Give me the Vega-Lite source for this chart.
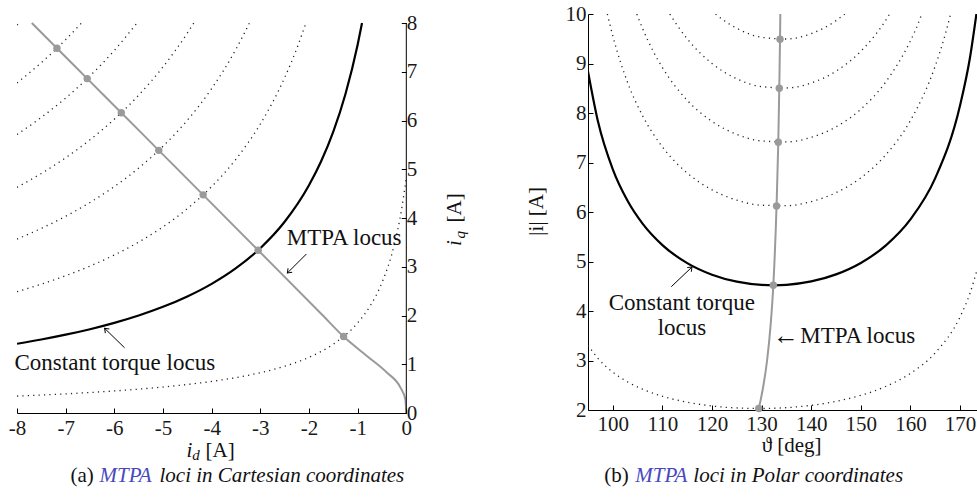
{
  "$schema": "https://vega.github.io/schema/vega-lite/v6.json",
  "padding": {"left": 8, "top": 3, "right": 0, "bottom": 0},
  "background": "white",
  "bounds": "flush",
  "spacing": 181,
  "config": {
    "view": {"stroke": null},
    "font": "Liberation Serif",
    "axis": {"labelFont": "Liberation Serif", "labelFontSize": 21, "labelColor": "#1a1a1a", "domainColor": "#000", "tickColor": "#000", "domainWidth": 1, "tickWidth": 1, "grid": false, "labelFlush": false}
  },
  "datasets": {
    "torqueA": [
      {"c":"T1","x":-8,"y":0.3473},{"c":"T1","x":-7.5,"y":0.3687},{"c":"T1","x":-7,"y":0.3929},{"c":"T1","x":-6.5,"y":0.4205},{"c":"T1","x":-6,"y":0.4523},{"c":"T1","x":-5.5,"y":0.4892},{"c":"T1","x":-5,"y":0.5327},{"c":"T1","x":-4.5,"y":0.5848},{"c":"T1","x":-4,"y":0.6481},{"c":"T1","x":-3.5,"y":0.7267},{"c":"T1","x":-3,"y":0.8271},{"c":"T1","x":-2.5,"y":0.9596},{"c":"T1","x":-2,"y":1.1427},{"c":"T1","x":-1.5,"y":1.4123},{"c":"T1","x":-1,"y":1.8481},{"c":"T1","x":-0.75,"y":2.1854},{"c":"T1","x":-0.5,"y":2.6732},{"c":"T1","x":-0.25,"y":3.4414},{"c":"T1","x":-0.1,"y":4.158},{"c":"T1","x":0,"y":4.829},
      {"c":"T3","x":-8,"y":2.4896},{"c":"T3","x":-7.5,"y":2.6429},{"c":"T3","x":-7,"y":2.8163},{"c":"T3","x":-6.5,"y":3.014},{"c":"T3","x":-6,"y":3.2417},{"c":"T3","x":-5.5,"y":3.5065},{"c":"T3","x":-5,"y":3.8185},{"c":"T3","x":-4.5,"y":4.1914},{"c":"T3","x":-4,"y":4.645},{"c":"T3","x":-3.5,"y":5.2087},{"c":"T3","x":-3,"y":5.9282},{"c":"T3","x":-2.5,"y":6.8782},{"c":"T3","x":-2.25,"y":7.477},{"c":"T3","x":-2.0625,"y":8},
      {"c":"T4","x":-8,"y":3.5673},{"c":"T4","x":-7.5,"y":3.787},{"c":"T4","x":-7,"y":4.0354},{"c":"T4","x":-6.5,"y":4.3188},{"c":"T4","x":-6,"y":4.645},{"c":"T4","x":-5.5,"y":5.0245},{"c":"T4","x":-5,"y":5.4715},{"c":"T4","x":-4.5,"y":6.0059},{"c":"T4","x":-4,"y":6.6558},{"c":"T4","x":-3.5,"y":7.4636},{"c":"T4","x":-3.2238,"y":8},
      {"c":"T5","x":-8,"y":4.6288},{"c":"T5","x":-7.5,"y":4.9138},{"c":"T5","x":-7,"y":5.2362},{"c":"T5","x":-6.5,"y":5.6039},{"c":"T5","x":-6,"y":6.0272},{"c":"T5","x":-5.5,"y":6.5196},{"c":"T5","x":-5,"y":7.0996},{"c":"T5","x":-4.5,"y":7.793},{"c":"T5","x":-4.3675,"y":8},
      {"c":"T6","x":-8,"y":5.7123},{"c":"T6","x":-7.5,"y":6.064},{"c":"T6","x":-7,"y":6.4619},{"c":"T6","x":-6.5,"y":6.9157},{"c":"T6","x":-6,"y":7.4381},{"c":"T6","x":-5.535,"y":8},
      {"c":"T7","x":-8,"y":6.7703},{"c":"T7","x":-7.5,"y":7.1872},{"c":"T7","x":-7,"y":7.6588},{"c":"T7","x":-6.675,"y":8},
      {"c":"T8","x":-8,"y":7.958},{"c":"T8","x":-7.955,"y":8}
    ],
    "ctA": [
      {"x":-8,"y":1.42},{"x":-7.5,"y":1.5074},{"x":-7,"y":1.6063},{"x":-6.5,"y":1.7191},{"x":-6,"y":1.8489},{"x":-5.5,"y":2.0},{"x":-5,"y":2.1779},{"x":-4.5,"y":2.3906},{"x":-4,"y":2.6494},{"x":-3.5,"y":2.9709},{"x":-3,"y":3.3812},{"x":-2.5,"y":3.9231},{"x":-2,"y":4.6718},{"x":-1.75,"y":5.1646},{"x":-1.5,"y":5.7736},{"x":-1.25,"y":6.5455},{"x":-1,"y":7.5556},{"x":-0.91,"y":8}
    ],
    "mtpaA": [
      {"x":0,"y":0},{"x":-0.02,"y":0.28},{"x":-0.12,"y":0.52},{"x":-0.4,"y":0.83},{"x":-0.81,"y":1.17},{"x":-1.289,"y":1.568},{"x":-1.714,"y":2},{"x":-3.045,"y":3.34},{"x":-4.175,"y":4.475},{"x":-5.087,"y":5.388},{"x":-5.857,"y":6.16},{"x":-6.557,"y":6.86},{"x":-7.179,"y":7.483},{"x":-7.696,"y":8}
    ],
    "dotsA": [
      {"x":-1.289,"y":1.568},{"x":-3.045,"y":3.34},{"x":-4.175,"y":4.475},{"x":-5.087,"y":5.388},{"x":-5.857,"y":6.16},{"x":-6.557,"y":6.86},{"x":-7.179,"y":7.483}
    ],
    "torqueB": [
      {"c":"B1","x":95,"y":3.309},{"c":"B1","x":97,"y":3.044},{"c":"B1","x":100,"y":2.764},{"c":"B1","x":103,"y":2.5665},{"c":"B1","x":106,"y":2.42},{"c":"B1","x":110,"y":2.2776},{"c":"B1","x":115,"y":2.157},{"c":"B1","x":120,"y":2.0817},{"c":"B1","x":125,"y":2.0411},{"c":"B1","x":130,"y":2.0303},{"c":"B1","x":135,"y":2.0476},{"c":"B1","x":140,"y":2.0942},{"c":"B1","x":145,"y":2.1741},{"c":"B1","x":150,"y":2.2958},{"c":"B1","x":155,"y":2.4747},{"c":"B1","x":160,"y":2.7401},{"c":"B1","x":165,"y":3.1545},{"c":"B1","x":170,"y":3.881},{"c":"B1","x":172,"y":4.358},{"c":"B1","x":173.5,"y":4.857},
      {"c":"B3","x":98.9,"y":10},{"c":"B3","x":100,"y":9.558},{"c":"B3","x":103,"y":8.612},{"c":"B3","x":106,"y":7.945},{"c":"B3","x":110,"y":7.315},{"c":"B3","x":115,"y":6.788},{"c":"B3","x":120,"y":6.447},{"c":"B3","x":125,"y":6.2393},{"c":"B3","x":130,"y":6.1371},{"c":"B3","x":135,"y":6.1276},{"c":"B3","x":140,"y":6.2095},{"c":"B3","x":145,"y":6.3904},{"c":"B3","x":150,"y":6.6911},{"c":"B3","x":155,"y":7.1511},{"c":"B3","x":160,"y":7.848},{"c":"B3","x":165,"y":8.95},{"c":"B3","x":167,"y":9.582},{"c":"B3","x":168.1,"y":10},
      {"c":"B4","x":104.84,"y":10},{"c":"B4","x":106,"y":9.707},{"c":"B4","x":108,"y":9.275},{"c":"B4","x":110,"y":8.917},{"c":"B4","x":115,"y":8.2565},{"c":"B4","x":120,"y":7.83},{"c":"B4","x":125,"y":7.5674},{"c":"B4","x":130,"y":7.4349},{"c":"B4","x":135,"y":7.416},{"c":"B4","x":140,"y":7.508},{"c":"B4","x":145,"y":7.7204},{"c":"B4","x":150,"y":8.0766},{"c":"B4","x":155,"y":8.6246},{"c":"B4","x":160,"y":9.4574},{"c":"B4","x":161,"y":9.672},{"c":"B4","x":162.3,"y":10},
      {"c":"B5","x":111.5,"y":10},{"c":"B5","x":113,"y":9.769},{"c":"B5","x":115,"y":9.4994},{"c":"B5","x":120,"y":8.999},{"c":"B5","x":125,"y":8.6907},{"c":"B5","x":130,"y":8.5325},{"c":"B5","x":135,"y":8.5055},{"c":"B5","x":140,"y":8.6062},{"c":"B5","x":145,"y":8.8445},{"c":"B5","x":150,"y":9.2479},{"c":"B5","x":153,"y":9.59},{"c":"B5","x":155,"y":9.87},{"c":"B5","x":155.8,"y":10},
      {"c":"B6","x":120.72,"y":10},{"c":"B6","x":122,"y":9.899},{"c":"B6","x":125,"y":9.711},{"c":"B6","x":130,"y":9.5294},{"c":"B6","x":135,"y":9.495},{"c":"B6","x":140,"y":9.6036},{"c":"B6","x":145,"y":9.8658},{"c":"B6","x":146.76,"y":10}
    ],
    "ctB": [
      {"x":95,"y":8.838},{"x":97,"y":7.832},{"x":100,"y":6.861},{"x":103,"y":6.221},{"x":106,"y":5.7645},{"x":110,"y":5.331},{"x":115,"y":4.967},{"x":120,"y":4.733},{"x":125,"y":4.592},{"x":130,"y":4.527},{"x":132.5,"y":4.5195},{"x":135,"y":4.529},{"x":140,"y":4.597},{"x":145,"y":4.74},{"x":150,"y":4.971},{"x":155,"y":5.321},{"x":160,"y":5.85},{"x":165,"y":6.684},{"x":170,"y":8.151},{"x":172,"y":9.116},{"x":173.3,"y":10}
    ],
    "mtpaB": [
      {"x":129.42,"y":2.03},{"x":129.8,"y":2.2},{"x":130.37,"y":2.5},{"x":131.1,"y":3},{"x":131.8,"y":3.7},{"x":132.36,"y":4.52},{"x":133.01,"y":6.12},{"x":133.36,"y":7.41},{"x":133.56,"y":8.5},{"x":133.71,"y":9.49},{"x":133.77,"y":10}
    ],
    "dotsB": [
      {"x":129.42,"y":2.03},{"x":132.36,"y":4.52},{"x":133.01,"y":6.12},{"x":133.36,"y":7.41},{"x":133.56,"y":8.5},{"x":133.71,"y":9.49}
    ]
  },
  "hconcat": [
    {
      "width": 389.3,
      "height": 399,
      "encoding": {
        "x": {"field": "x", "type": "quantitative", "scale": {"domain": [-8, 0], "nice": false, "zero": false},
          "axis": {"orient": "bottom", "values": [-8,-7,-6,-5,-4,-3,-2,-1,0], "labelExpr": "datum.value + ''", "labelFont": "Liberation Serif", "tickSize": -5, "labelPadding": 9, "title": null}},
        "y": {"field": "y", "type": "quantitative", "scale": {"domain": [0, 8.185], "nice": false, "zero": false},
          "axis": {"orient": "right", "values": [0,1,2,3,4,5,6,7,8], "labelFont": "Liberation Serif", "domain": false, "tickSize": -5, "labelPadding": 5, "labelAlign": "left", "title": null}}
      },
      "layer": [
        {"data": {"name": "torqueA"}, "mark": {"type": "line", "color": "#222", "strokeWidth": 1.3, "strokeDash": [1.2, 4.2], "interpolate": "monotone", "clip": true}, "encoding": {"detail": {"field": "c"}}},
        {"data": {"name": "ctA"}, "mark": {"type": "line", "color": "#000", "strokeWidth": 2.2, "interpolate": "monotone", "clip": true}},
        {"data": {"name": "mtpaA"}, "mark": {"type": "line", "color": "#9a9a9a", "strokeWidth": 2, "interpolate": "monotone", "clip": true}},
        {"data": {"name": "dotsA"}, "mark": {"type": "point", "filled": true, "color": "#9a9a9a", "size": 55, "opacity": 1}},
        {"data": {"values": [{"x": 0, "y": 0, "y2": 8}]}, "mark": {"type": "rule", "color": "#000", "strokeWidth": 1}, "encoding": {"y2": {"field": "y2"}}},
        {"data": {"values": [{"k": "a1", "x": -2.053, "y": 3.262}, {"k": "a1", "x": -2.444, "y": 2.872}, {"k": "a2", "x": -5.79, "y": 1.339}, {"k": "a2", "x": -6.2, "y": 1.737}]}, "mark": {"type": "line", "color": "#000", "strokeWidth": 1}, "encoding": {"detail": {"field": "k"}}},
        {"data": {"values": [{"x": -2.444, "y": 2.872}]}, "mark": {"type": "point", "shape": "M-1,-0.75L0,0L-1,0.75", "size": 60, "filled": false, "color": "#000", "strokeWidth": 1, "opacity": 1, "angle": 135}},
        {"data": {"values": [{"x": -6.2, "y": 1.737}]}, "mark": {"type": "point", "shape": "M-1,-0.75L0,0L-1,0.75", "size": 60, "filled": false, "color": "#000", "strokeWidth": 1, "opacity": 1, "angle": 224}},
        {"data": {"values": [{"x": -1.277, "y": 3.59, "t": "MTPA locus"}, {"x": -5.99, "y": 1.032, "t": "Constant torque locus"}]}, "mark": {"type": "text", "font": "Liberation Serif", "fontSize": 23, "color": "#111", "align": "center", "baseline": "middle", "clip": false}, "encoding": {"text": {"field": "t"}}},
        {"data": {"values": [{"x": -4.127, "y": -0.903, "t": "[A]"}, {"x": -6.9, "y": -1.415, "t": "(a)"}]}, "mark": {"type": "text", "font": "Liberation Serif", "fontSize": 21, "color": "#111", "align": "left", "baseline": "alphabetic", "clip": false}, "encoding": {"text": {"field": "t"}}},
        {"data": {"values": [{"x": -4.517, "y": -0.903, "t": "i"}, {"x": -5.072, "y": -1.415, "t": "loci in Cartesian coordinates"}]}, "mark": {"type": "text", "font": "Liberation Serif", "fontSize": 21, "fontStyle": "italic", "color": "#111", "align": "left", "baseline": "alphabetic", "clip": false}, "encoding": {"text": {"field": "t"}}},
        {"data": {"values": [{"x": -6.304, "y": -1.415, "t": "MTPA"}]}, "mark": {"type": "text", "font": "Liberation Serif", "fontSize": 21, "fontStyle": "italic", "color": "#4848c0", "align": "left", "baseline": "alphabetic", "clip": false}, "encoding": {"text": {"field": "t"}}},
        {"data": {"values": [{"x": -4.4, "y": -0.974, "t": "d"}]}, "mark": {"type": "text", "font": "Liberation Serif", "fontSize": 15, "fontStyle": "italic", "color": "#111", "align": "left", "baseline": "alphabetic", "clip": false}, "encoding": {"text": {"field": "t"}}},
        {"data": {"values": [{"x": 1.129, "y": 3.426, "t": "i"}]}, "mark": {"type": "text", "font": "Liberation Serif", "fontSize": 21, "fontStyle": "italic", "color": "#111", "align": "left", "baseline": "alphabetic", "angle": 270, "clip": false}, "encoding": {"text": {"field": "t"}}},
        {"data": {"values": [{"x": 1.201, "y": 3.58, "t": "q"}]}, "mark": {"type": "text", "font": "Liberation Serif", "fontSize": 15, "fontStyle": "italic", "color": "#111", "align": "left", "baseline": "alphabetic", "angle": 270, "clip": false}, "encoding": {"text": {"field": "t"}}},
        {"data": {"values": [{"x": 1.129, "y": 3.908, "t": "[A]"}]}, "mark": {"type": "text", "font": "Liberation Serif", "fontSize": 21, "color": "#111", "align": "left", "baseline": "alphabetic", "angle": 270, "clip": false}, "encoding": {"text": {"field": "t"}}}
      ]
    },
    {
      "width": 389.4,
      "height": 396,
      "encoding": {
        "x": {"field": "x", "type": "quantitative", "scale": {"domain": [95, 173.5], "nice": false, "zero": false},
          "axis": {"orient": "bottom", "values": [100,110,120,130,140,150,160,170], "labelFont": "Liberation Serif", "tickSize": -5, "labelPadding": 8.5, "title": null}},
        "y": {"field": "y", "type": "quantitative", "scale": {"domain": [2, 10], "nice": false, "zero": false},
          "axis": {"orient": "left", "values": [2,3,4,5,6,7,8,9,10], "labelFont": "Liberation Serif", "tickSize": -5, "labelPadding": 7, "title": null}}
      },
      "layer": [
        {"data": {"name": "torqueB"}, "mark": {"type": "line", "color": "#222", "strokeWidth": 1.3, "strokeDash": [1.2, 4.2], "interpolate": "monotone", "clip": true}, "encoding": {"detail": {"field": "c"}}},
        {"data": {"name": "ctB"}, "mark": {"type": "line", "color": "#000", "strokeWidth": 2.2, "interpolate": "monotone", "clip": true}},
        {"data": {"name": "mtpaB"}, "mark": {"type": "line", "color": "#9a9a9a", "strokeWidth": 2, "interpolate": "monotone", "clip": true}},
        {"data": {"name": "dotsB"}, "mark": {"type": "point", "filled": true, "color": "#9a9a9a", "size": 55, "opacity": 1}},
        {"data": {"values": [{"k": "b1", "x": 111.79, "y": 4.491}, {"k": "b1", "x": 115.97, "y": 4.889}]}, "mark": {"type": "line", "color": "#000", "strokeWidth": 1}, "encoding": {"detail": {"field": "k"}}},
        {"data": {"values": [{"x": 115.97, "y": 4.889}]}, "mark": {"type": "point", "shape": "M-1,-0.75L0,0L-1,0.75", "size": 60, "filled": false, "color": "#000", "strokeWidth": 1, "opacity": 1, "angle": 316}},
        {"data": {"values": [{"x": 113.91, "y": 4.168, "t": "Constant torque"}, {"x": 113.95, "y": 3.657, "t": "locus"}]}, "mark": {"type": "text", "font": "Liberation Serif", "fontSize": 23, "color": "#111", "align": "center", "baseline": "middle", "clip": false}, "encoding": {"text": {"field": "t"}}},
        {"data": {"values": [{"x": 132.3, "y": 3.495, "t": "←"}]}, "mark": {"type": "text", "font": "Liberation Serif", "fontSize": 26, "color": "#111", "align": "left", "baseline": "middle", "clip": false}, "encoding": {"text": {"field": "t"}}},
        {"data": {"values": [{"x": 137.8, "y": 3.495, "t": "MTPA locus"}]}, "mark": {"type": "text", "font": "Liberation Serif", "fontSize": 23, "color": "#111", "align": "left", "baseline": "middle", "clip": false}, "encoding": {"text": {"field": "t"}}},
        {"data": {"values": [{"x": 136.05, "y": 1.15, "t": "ϑ [deg]"}]}, "mark": {"type": "text", "font": "Liberation Serif", "fontSize": 21, "color": "#111", "align": "center", "baseline": "alphabetic", "clip": false}, "encoding": {"text": {"field": "t"}}},
        {"data": {"values": [{"x": 86.0, "y": 6.014, "t": "|i| [A]"}]}, "mark": {"type": "text", "font": "Liberation Serif", "fontSize": 21, "color": "#111", "align": "center", "baseline": "alphabetic", "angle": 270, "clip": false}, "encoding": {"text": {"field": "t"}}},
        {"data": {"values": [{"x": 98.29, "y": 0.545, "t": "(b)"}]}, "mark": {"type": "text", "font": "Liberation Serif", "fontSize": 21, "color": "#111", "align": "left", "baseline": "alphabetic", "clip": false}, "encoding": {"text": {"field": "t"}}},
        {"data": {"values": [{"x": 104.54, "y": 0.545, "t": "MTPA"}]}, "mark": {"type": "text", "font": "Liberation Serif", "fontSize": 21, "fontStyle": "italic", "color": "#4848c0", "align": "left", "baseline": "alphabetic", "clip": false}, "encoding": {"text": {"field": "t"}}},
        {"data": {"values": [{"x": 116.23, "y": 0.545, "t": "loci in Polar coordinates"}]}, "mark": {"type": "text", "font": "Liberation Serif", "fontSize": 21, "fontStyle": "italic", "color": "#111", "align": "left", "baseline": "alphabetic", "clip": false}, "encoding": {"text": {"field": "t"}}}
      ]
    }
  ]
}
